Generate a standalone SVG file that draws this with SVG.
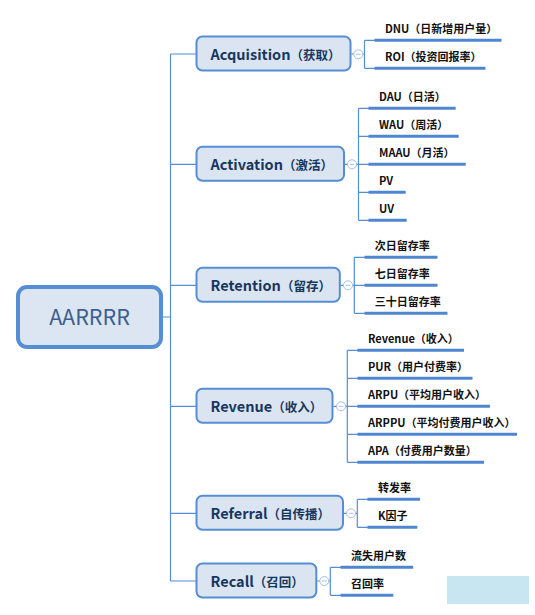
<svg xmlns="http://www.w3.org/2000/svg" width="535" height="615" viewBox="0 0 535 615">
<style>
.ln{fill:none;stroke:#558ed5;stroke-width:1.2}
.ul{fill:none;stroke:#4f86d0;stroke-width:3}
.nd{fill:#dbe5f1;stroke:#558ed5;stroke-width:2}
.bt{font-family:"Noto Sans CJK SC","Noto Sans",sans-serif;font-weight:bold;font-size:14.5px;fill:#17375e}
.cj{font-size:12.5px}
.ct{font-family:"Noto Sans CJK SC","Noto Sans",sans-serif;font-weight:bold;font-size:11px;fill:#111}
.tg{fill:#fff;stroke:#a7c0e4;stroke-width:1}
.tm{stroke:#a7c0e4;stroke-width:1}
</style>
<rect width="535" height="615" fill="#fff"/>
<g id="connectors">
<path class="ln" d="M170.5 54V581M163 317H170.5M170.5 54H196M170.5 164.3H196M170.5 285.3H196M170.5 406.3H196M170.5 513.3H196M170.5 581H196"/>
<path class="ln" d="M351.5 54H364.5M364.5 40.3V68.3M364.5 40.3H375M364.5 68.3H375"/>
<path class="ln" d="M345 164.3H358.5M358.5 108.3V220.3M358.5 108.3H369M358.5 136.3H369M358.5 164.3H369M358.5 192.3H369M358.5 220.3H369"/>
<path class="ln" d="M340.8 285.3H354.3M354.3 257.3V313.3M354.3 257.3H365M354.3 285.3H365M354.3 313.3H365"/>
<path class="ln" d="M333.5 406.3H347.3M347.3 350.3V462.3M347.3 350.3H358M347.3 378.3H358M347.3 406.3H358M347.3 434.3H358M347.3 462.3H358"/>
<path class="ln" d="M344 513.3H357.3M357.3 499.3V527.3M357.3 499.3H368M357.3 527.3H368"/>
<path class="ln" d="M317.3 581H330.3M330.3 567.3V595.3M330.3 567.3H341M330.3 595.3H341"/>
</g>
<g id="toggles">
<circle class="tg" cx="358.3" cy="54.3" r="4.5"/><path class="tm" d="M356 54.3H360.6"/>
<circle class="tg" cx="352" cy="164.3" r="4.5"/><path class="tm" d="M349.7 164.3H354.3"/>
<circle class="tg" cx="348" cy="285.3" r="4.5"/><path class="tm" d="M345.7 285.3H350.3"/>
<circle class="tg" cx="341" cy="406.3" r="4.5"/><path class="tm" d="M338.7 406.3H343.3"/>
<circle class="tg" cx="351" cy="513.3" r="4.5"/><path class="tm" d="M348.7 513.3H353.3"/>
<circle class="tg" cx="324.3" cy="581" r="4.5"/><path class="tm" d="M322 581H326.6"/>
</g>
<g id="root">
<rect x="18" y="287" width="143" height="60" rx="9" fill="#dce6f2" stroke="#558ed5" stroke-width="4"/>
<text x="89.5" y="325" text-anchor="middle" font-family="Noto Sans CJK SC,Noto Sans,sans-serif" font-size="21.5" fill="#3b5f8f">AARRRR</text>
</g>
<g id="acquisition">
<rect class="nd" x="196.5" y="36.5" width="154" height="34" rx="6"/>
<text class="bt" x="210.5" y="60">Acquisition<tspan class="cj">（获取）</tspan></text>
</g>
<g id="activation">
<rect class="nd" x="196.5" y="146.8" width="147.5" height="34" rx="6"/>
<text class="bt" x="210.5" y="170.3">Activation<tspan class="cj">（激活）</tspan></text>
</g>
<g id="retention">
<rect class="nd" x="196.5" y="267.8" width="143.3" height="34" rx="6"/>
<text class="bt" x="210.5" y="291.3">Retention<tspan class="cj">（留存）</tspan></text>
</g>
<g id="revenue">
<rect class="nd" x="196.5" y="388.8" width="136" height="34" rx="6"/>
<text class="bt" x="210.5" y="412.3">Revenue<tspan class="cj">（收入）</tspan></text>
</g>
<g id="referral">
<rect class="nd" x="196.5" y="495.8" width="146.5" height="34" rx="6"/>
<text class="bt" x="210.5" y="519.3">Referral<tspan class="cj">（自传播）</tspan></text>
</g>
<g id="recall">
<rect class="nd" x="196.5" y="563.5" width="119.8" height="34" rx="6"/>
<text class="bt" x="210.5" y="587">Recall<tspan class="cj">（召回）</tspan></text>
</g>
<g id="acq-dnu"><path class="ul" d="M374.5 40.3H501.5"/><text class="ct" x="385" y="33.3">DNU（日新增用户量）</text></g>
<g id="acq-roi"><path class="ul" d="M374.5 68.3H485.5"/><text class="ct" x="385" y="61.3">ROI（投资回报率）</text></g>
<g id="act-dau"><path class="ul" d="M368.5 108.3H455.7"/><text class="ct" x="379" y="101.3">DAU（日活）</text></g>
<g id="act-wau"><path class="ul" d="M368.5 136.3H458.7"/><text class="ct" x="379" y="129.3">WAU（周活）</text></g>
<g id="act-maau"><path class="ul" d="M368.5 164.3H465.7"/><text class="ct" x="379" y="157.3">MAAU（月活）</text></g>
<g id="act-pv"><path class="ul" d="M368.5 192.3H405.7"/><text class="ct" x="379" y="185.3">PV</text></g>
<g id="act-uv"><path class="ul" d="M368.5 220.3H406.7"/><text class="ct" x="379" y="213.3">UV</text></g>
<g id="ret-1"><path class="ul" d="M364.5 257.3H437.5"/><text class="ct" x="374.7" y="250.3">次日留存率</text></g>
<g id="ret-7"><path class="ul" d="M364.5 285.3H437.5"/><text class="ct" x="374.7" y="278.3">七日留存率</text></g>
<g id="ret-30"><path class="ul" d="M364.5 313.3H447.5"/><text class="ct" x="374.7" y="306.3">三十日留存率</text></g>
<g id="rev-revenue"><path class="ul" d="M357.5 350.3H464"/><text class="ct" x="368" y="343.3">Revenue（收入）</text></g>
<g id="rev-pur"><path class="ul" d="M357.5 378.3H472.5"/><text class="ct" x="368" y="371.3">PUR（用户付费率）</text></g>
<g id="rev-arpu"><path class="ul" d="M357.5 406.3H490"/><text class="ct" x="368" y="399.3">ARPU（平均用户收入）</text></g>
<g id="rev-arppu"><path class="ul" d="M357.5 434.3H517"/><text class="ct" x="368" y="427.3">ARPPU（平均付费用户收入）</text></g>
<g id="rev-apa"><path class="ul" d="M357.5 462.3H484"/><text class="ct" x="368" y="455.3">APA（付费用户数量）</text></g>
<g id="ref-share"><path class="ul" d="M367.5 499.3H420"/><text class="ct" x="378" y="492.3">转发率</text></g>
<g id="ref-k"><path class="ul" d="M367.5 527.3H417.3"/><text class="ct" x="378" y="520.3">K因子</text></g>
<g id="rec-lost"><path class="ul" d="M340.5 567.3H413.2"/><text class="ct" x="351" y="560.3">流失用户数</text></g>
<g id="rec-rate"><path class="ul" d="M340.5 595.3H393.3"/><text class="ct" x="351" y="588.3">召回率</text></g>
<rect x="447" y="576" width="82" height="28" fill="#c8e6f2"/>
</svg>
